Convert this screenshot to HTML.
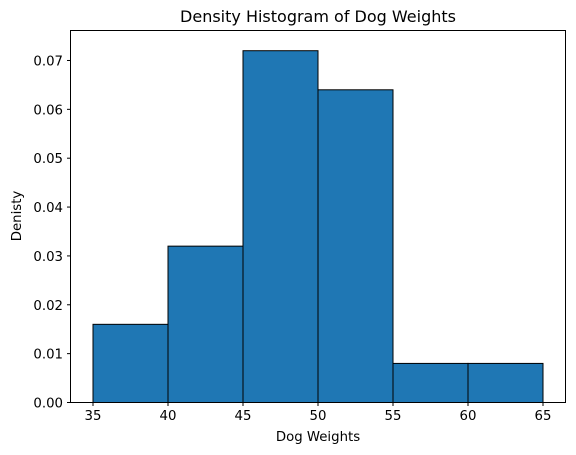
<!DOCTYPE html>
<html><head><meta charset="utf-8"><style>
body{margin:0;background:#fff;}
svg{display:block;font-family:"DejaVu Sans","Liberation Sans",sans-serif;}
</style></head><body>
<svg id="chart" width="576" height="455">
<rect x="0" y="0" width="576" height="455" fill="#fff"/>
<text x="318" y="22" text-anchor="middle" font-size="16">Density Histogram of Dog Weights</text>
<g id="bars"></g>
<g id="xticks"></g>
<g id="yticks"></g>
<rect x="70.5" y="30.5" width="495" height="372" fill="none" stroke="#000" stroke-width="1"/>
<text x="318" y="441" text-anchor="middle" font-size="13.3">Dog Weights</text>
<text transform="translate(21,216) rotate(-90)" text-anchor="middle" font-size="13.3">Denisty</text>
</svg>
<script>
const binEdges = [35, 40, 45, 50, 55, 60, 65];
const densities = [0.016, 0.032, 0.072, 0.064, 0.008, 0.008];
const xTickValues = [35, 40, 45, 50, 55, 60, 65];
const yTickValues = [0, 0.01, 0.02, 0.03, 0.04, 0.05, 0.06, 0.07];
const yTickLabels = ["0.00","0.01","0.02","0.03","0.04","0.05","0.06","0.07"];

const NS = "http://www.w3.org/2000/svg";
const x = v => 93 + (v - 35) * 15;
const y = v => 402.5 - v * 4886;
const bars = document.getElementById('bars');
densities.forEach((d, i) => {
  const r = document.createElementNS(NS, 'rect');
  r.setAttribute('x', x(binEdges[i]));
  r.setAttribute('y', y(d));
  r.setAttribute('width', x(binEdges[i+1]) - x(binEdges[i]));
  r.setAttribute('height', y(0) - y(d));
  r.setAttribute('fill', '#1f77b4');
  r.setAttribute('stroke', '#000');
  
  
  bars.appendChild(r);
});
const xt = document.getElementById('xticks');
xTickValues.forEach(v => {
  const l = document.createElementNS(NS, 'line');
  l.setAttribute('x1', x(v)); l.setAttribute('x2', x(v));
  l.setAttribute('y1', 402.5); l.setAttribute('y2', 406);
  l.setAttribute('stroke', '#000');
  
  
  xt.appendChild(l);
  const t = document.createElementNS(NS, 'text');
  t.setAttribute('x', x(v)); t.setAttribute('y', 420);
  t.setAttribute('text-anchor', 'middle'); t.setAttribute('font-size', '13.3');
  
  
  t.textContent = v;
  xt.appendChild(t);
});
const yt = document.getElementById('yticks');
yTickValues.forEach((v, i) => {
  const l = document.createElementNS(NS, 'line');
  l.setAttribute('x1', 67); l.setAttribute('x2', 70.5);
  l.setAttribute('y1', y(v)); l.setAttribute('y2', y(v));
  l.setAttribute('stroke', '#000');
  
  
  yt.appendChild(l);
  const t = document.createElementNS(NS, 'text');
  t.setAttribute('x', 63); t.setAttribute('y', y(v) + 5);
  t.setAttribute('text-anchor', 'end'); t.setAttribute('font-size', '13.3');
  
  
  t.textContent = yTickLabels[i];
  yt.appendChild(t);
});
</script>
</body></html>
